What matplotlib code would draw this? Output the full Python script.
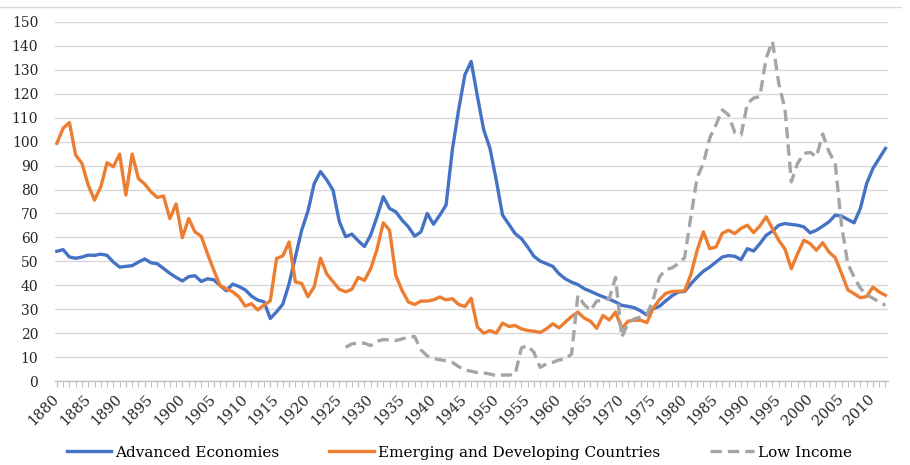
import numpy as np
import matplotlib.pyplot as plt
from matplotlib.lines import Line2D

# Public debt to GDP (%)
years = np.arange(1880, 2013)

advanced = [
    54.2, 54.9, 51.8, 51.3, 51.8, 52.6, 52.5, 53.0, 52.5, 49.7,   # 1880s
    47.6, 47.9, 48.2, 49.7, 51.0, 49.4, 49.0, 47.0, 45.0, 43.3,   # 1890s
    41.8, 43.6, 44.0, 41.6, 42.7, 42.3, 39.9, 37.7, 40.5, 39.5,   # 1900s
    38.1, 35.5, 33.8, 33.1, 26.1, 28.9, 32.1, 40.7, 51.8, 63.0,   # 1910s
    71.0, 82.5, 87.5, 84.0, 79.7, 66.6, 60.3, 61.4, 58.6, 56.2,   # 1920s
    61.0, 68.6, 77.0, 72.1, 70.7, 67.2, 64.4, 60.5, 62.3, 70.0,   # 1930s
    65.5, 69.3, 73.5, 96.5, 113.3, 127.9, 133.5, 118.9, 104.9, 97.2,  # 1940s
    83.9, 69.3, 65.5, 61.6, 59.5, 56.0, 52.1, 50.1, 49.0, 47.9,   # 1950s
    44.8, 42.7, 41.3, 40.3, 38.6, 37.5, 36.3, 35.2, 34.2, 33.0,   # 1960s
    31.6, 31.2, 30.6, 29.3, 27.6, 30.2, 31.2, 33.5, 35.6, 37.2,   # 1970s
    37.4, 40.6, 43.4, 45.9, 47.6, 49.7, 51.8, 52.4, 52.1, 50.7,   # 1980s
    55.3, 54.3, 57.4, 60.9, 62.6, 65.1, 65.8, 65.4, 65.1, 64.4,   # 1990s
    61.9, 63.0, 64.7, 66.5, 69.3, 68.9, 67.5, 66.1, 72.1, 82.5,   # 2000s
    88.8, 93.0, 97.2,                                             # 2010-2012
]

emerging = [
    99.3, 105.6, 108.0, 94.4, 90.9, 81.8, 75.6, 81.1, 91.2, 89.5,
    94.8, 77.7, 94.8, 84.6, 82.3, 79.0, 76.7, 77.3, 67.9, 74.0,
    59.9, 67.9, 62.3, 60.5, 53.2, 46.3, 39.9, 38.5, 37.3, 35.2,
    31.3, 32.3, 29.7, 31.7, 33.5, 51.2, 52.3, 58.1, 41.4, 40.8,
    35.2, 39.4, 51.3, 44.7, 41.5, 38.3, 37.3, 38.3, 43.3, 42.0,
    47.0, 55.0, 66.1, 63.0, 44.1, 37.8, 33.0, 32.0, 33.4, 33.4,
    33.9, 35.1, 33.9, 34.4, 32.0, 31.1, 34.6, 22.5, 20.0, 21.1,
    20.0, 24.2, 22.8, 23.2, 21.8, 21.1, 20.8, 20.3, 21.8, 23.9,
    22.2, 24.6, 27.0, 28.8, 26.3, 25.0, 22.0, 27.4, 25.5, 28.8,
    22.0, 25.0, 25.4, 25.4, 24.4, 30.4, 34.0, 36.6, 37.4, 37.5,
    37.6, 44.5, 54.6, 62.3, 55.3, 56.0, 61.7, 63.0, 61.6, 63.8,
    65.1, 62.0, 64.8, 68.6, 63.6, 58.8, 55.1, 46.9, 53.2, 58.8,
    57.4, 54.6, 57.8, 53.9, 51.5, 45.0, 38.1, 36.5, 34.8, 35.3,
    39.2, 37.2, 35.8,
]

low_years = np.arange(1926, 2013)
low_income = [
    14.1, 15.5, 15.9, 15.8,                                       # 1926-1929
    14.8, 16.6, 17.3, 17.2, 16.9, 17.6, 18.3, 18.6, 13.0, 10.5,   # 1930s
    9.4, 8.9, 8.5, 7.8, 6.0, 4.6, 4.1, 3.5, 3.4, 2.9,             # 1940s
    2.2, 2.5, 2.5, 2.7, 13.8, 14.8, 12.0, 5.7, 7.2, 7.8,          # 1950s
    8.8, 9.2, 11.3, 35.8, 32.0, 29.5, 33.4, 33.7, 34.4, 43.3,     # 1960s
    18.3, 24.3, 26.0, 26.7, 27.8, 34.0, 43.5, 46.5, 47.3, 49.0,   # 1970s
    51.5, 68.6, 85.0, 91.0, 101.5, 107.0, 113.3, 111.2, 103.8, 102.8,  # 1980s
    116.0, 118.2, 118.9, 135.0, 141.9, 124.4, 113.5, 83.2, 90.9, 95.1,  # 1990s
    95.5, 93.7, 103.2, 95.8, 90.9, 65.0, 49.0, 43.4, 38.8, 36.0,  # 2000s
    34.6, 33.0, 31.6,
]

series_names = ['Advanced Economies', 'Emerging and Developing Countries', 'Low Income']
colors = ['#4472C4', '#ED7D31', '#A5A5A5']

plt.rcParams['font.family'] = 'DejaVu Serif'

fig = plt.figure(figsize=(9.1, 4.65), dpi=100)
ax = fig.add_axes([0.0604, 0.1806, 0.9154, 0.7721])

ax.plot(years, advanced, color=colors[0], lw=2.4, label=series_names[0])
ax.plot(years, emerging, color=colors[1], lw=2.4, label=series_names[1])
ax.plot(low_years, low_income, color=colors[2], lw=2.4, ls=(0, (3.4, 1.8)),
        label=series_names[2])

ax.set_ylim(0, 150)
ax.set_yticks(np.arange(0, 151, 10))
ax.set_xlim(1879.7, 2012.4)
ax.set_xticks(np.arange(1880, 2011, 5))
ax.set_xticks(np.arange(1880, 2013, 1), minor=True)

ax.grid(axis='y', color='#D9D9D9', lw=1)
ax.set_axisbelow(True)
for side in ['top', 'right', 'left']:
    ax.spines[side].set_visible(False)
ax.spines['bottom'].set_color('#BFBFBF')
ax.spines['bottom'].set_linewidth(1)

ax.tick_params(axis='y', length=0, pad=12, labelsize=10, labelcolor='#262626')
ax.tick_params(axis='x', which='both', length=4, color='#BFBFBF', width=0.8,
               labelsize=10.5, labelcolor='#262626')
plt.setp(ax.get_xticklabels(), rotation=45, ha='right', va='center',
         rotation_mode='anchor')
for lab in ax.get_xticklabels():
    lab.set_y(-0.015)

fig.legend(loc='lower center', bbox_to_anchor=(0.505, -0.018), ncol=3, frameon=False,
           fontsize=11, handlelength=2.9, handletextpad=0.25, columnspacing=3.3)

# thin border line at the top of the chart area
fig.add_artist(Line2D([0, 0.99], [0.985, 0.985], color='#D9D9D9', lw=1))

fig.savefig('out.png', dpi=100)
